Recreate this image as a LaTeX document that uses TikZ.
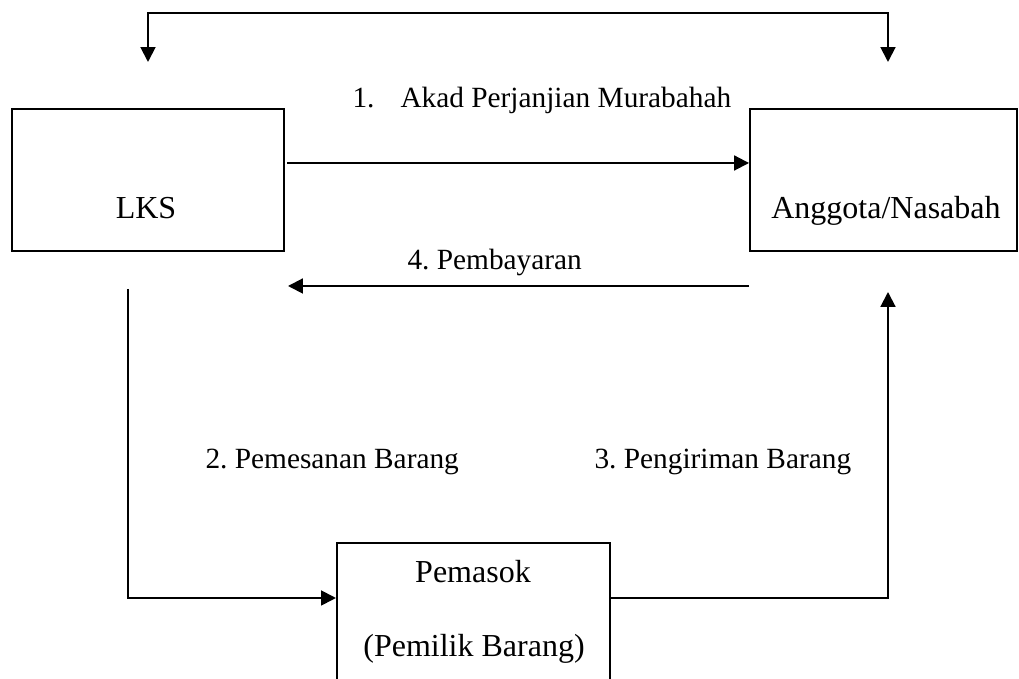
\documentclass[tikz,border=0pt]{standalone}
\usepackage{fontspec}
\setmainfont{Liberation Serif}
\usetikzlibrary{arrows.meta}
\usetikzlibrary{calc}
\usetikzlibrary{positioning}
\frenchspacing
\tikzset{
    box/.style={draw=black, line width=0.75pt, rectangle, inner sep=0pt},
    flow/.style={draw=black, line width=0.75pt,
        >={Triangle[length=5.6pt,width=5.6pt]}},
    txt/.style={anchor=base, inner sep=0pt, font=\fontsize{12}{14}\selectfont},
    txtleft/.style={anchor=base west, inner sep=0pt, font=\fontsize{11}{13}\selectfont},
}

\begin{document}
\begin{tikzpicture}[x=0.375pt, y=-0.375pt]
	\useasboundingbox (0,0) rectangle (1019,679);
	\clip (0,0) rectangle (1019,679);
	% boxes
	\node[box, minimum width=102pt, minimum height=53.25pt] (lks) at (148,180) {};
	\node[box, minimum width=100.1pt, minimum height=53.25pt] (anggota) at (883.5,180) {};
	\node[box, minimum width=102.4pt, minimum height=75pt] (pemasok) at (473.5,643) {};
	\node[txt] (lkstxt) at (146,219) {LKS};
	\node[txt] (anggotatxt) at (886,219) {Anggota/Nasabah};
	\node[txt] (pemasoktxt) at (473,583) {Pemasok};
	\node[txt] (pemiliktxt) at (474,657) {(Pemilik Barang)};
%
	\draw[flow,<->] ($(lks.north)+(0,-46)$) -- ($(lks.north)+(0,-95)$)
		-| ($(anggota.north)+(4.5,-46)$);
	\draw[flow,->] ($(lks.east)+(2,-17)$) -- ($(anggota.west)+(0,-17)$);
	\draw[flow,->] ($(anggota.south west)+(0,34)$) -- ($(lks.south east)+(3,34)$);
	\draw[flow,->] ($(lks.south)+(-20,37)$) |- ($(pemasok.north west)+(0,56)$);
	\draw[flow,->] ($(pemasok.north east)+(0,56)$) -| ($(anggota.south)+(4.5,40)$);
%
	\node[txtleft] (akad) at (352,108) {1.\hspace{9.75pt}Akad Perjanjian Murabahah};
	\node[txtleft] (bayar) at (407,270) {4. Pembayaran};
	\node[txtleft] (pesan) at (205,469) {2. Pemesanan Barang};
	\node[txtleft] (kirim) at (594,469) {3. Pengiriman Barang};
\end{tikzpicture}
\end{document}
